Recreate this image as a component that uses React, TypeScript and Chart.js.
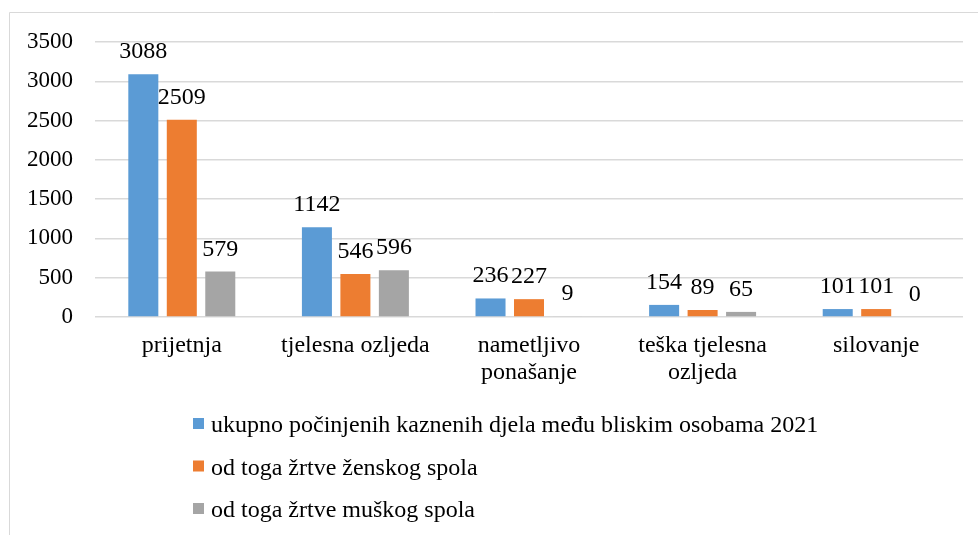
import React, { useEffect, useRef } from "react";
import { Chart, registerables } from "chart.js";

Chart.register(...registerables);

const categories: string[][] = [
  ["prijetnja"],
  ["tjelesna ozljeda"],
  ["nametljivo", "ponašanje"],
  ["teška tjelesna", "ozljeda"],
  ["silovanje"],
];
const seriesNames: string[] = [
  "ukupno počinjenih kaznenih djela među bliskim osobama 2021",
  "od toga žrtve ženskog spola",
  "od toga žrtve muškog spola",
];
const totalValues: number[] = [3088, 1142, 236, 154, 101];
const femaleValues: number[] = [2509, 546, 227, 89, 101];
const maleValues: number[] = [579, 596, 9, 65, 0];
const colors: string[] = ["#5B9BD5", "#ED7D31", "#A5A5A5"];
const yTicks: number[] = [0, 500, 1000, 1500, 2000, 2500, 3000, 3500];

const FONT = '"Liberation Serif", "Times New Roman", serif';

const framePlugin = {
  id: "frame",
  beforeDraw(chart: any) {
    const ctx = chart.ctx;
    ctx.save();
    ctx.fillStyle = "#ffffff";
    ctx.fillRect(0, 0, chart.width, chart.height);
    ctx.strokeStyle = "#d9d9d9";
    ctx.lineWidth = 1;
    ctx.beginPath();
    ctx.moveTo(9.5, chart.height);
    ctx.lineTo(9.5, 12.5);
    ctx.lineTo(chart.width, 12.5);
    ctx.stroke();
    ctx.restore();
  },
};

const labelPlugin = {
  id: "valueLabels",
  afterDatasetsDraw(chart: any) {
    const ctx = chart.ctx;
    ctx.save();
    ctx.font = `24px ${FONT}`;
    ctx.fillStyle = "#000000";
    ctx.textAlign = "center";
    ctx.textBaseline = "alphabetic";
    chart.data.datasets.forEach((ds: any, di: number) => {
      const meta = chart.getDatasetMeta(di);
      meta.data.forEach((el: any, i: number) => {
        ctx.fillText(String(ds.data[i]), el.x, el.y - 16);
      });
    });
    ctx.restore();
  },
};

const legendPlugin = {
  id: "vLegend",
  afterDraw(chart: any) {
    const ctx = chart.ctx;
    ctx.save();
    ctx.font = `24px ${FONT}`;
    ctx.textAlign = "left";
    ctx.textBaseline = "alphabetic";
    chart.data.datasets.forEach((ds: any, i: number) => {
      const top = 418 + i * 42.5;
      ctx.fillStyle = ds.backgroundColor;
      ctx.fillRect(193, top, 11, 11);
      ctx.fillStyle = "#000000";
      ctx.fillText(ds.label, 211, top + 14);
    });
    ctx.restore();
  },
};

export default function App() {
  const ref = useRef<HTMLCanvasElement | null>(null);
  useEffect(() => {
    if (!ref.current) return;
    const values = [totalValues, femaleValues, maleValues];
    const chart = new Chart(ref.current, {
      type: "bar",
      data: {
        labels: categories,
        datasets: seriesNames.map((name, i) => ({
          label: name,
          data: values[i],
          backgroundColor: colors[i],
          borderWidth: 0,
          categoryPercentage: 0.665,
          barPercentage: 0.78,
        })),
      },
      options: {
        animation: false,
        responsive: false,
        devicePixelRatio: 1,
        layout: { padding: { left: 0, right: 15, top: 42, bottom: 0 } },
        plugins: {
          legend: { display: false },
          tooltip: { enabled: false },
        },
        scales: {
          x: {
            grid: { display: false, drawTicks: false },
            border: { display: false },
            ticks: {
              color: "#000000",
              font: { family: FONT, size: 24, lineHeight: 1.1 },
              padding: 16,
              maxRotation: 0,
              autoSkip: false,
            },
            afterFit(scale: any) {
              scale.height = 218;
            },
          },
          y: {
            min: 0,
            max: 3500,
            afterBuildTicks(scale: any) {
              scale.ticks = yTicks.map((v) => ({ value: v }));
            },
            grid: { color: "#d9d9d9", lineWidth: 1.5, drawTicks: false },
            border: { display: false },
            ticks: {
              color: "#000000",
              font: { family: FONT, size: 23 },
              padding: 22,
              callback: (v: any) => String(v),
            },
            afterFit(scale: any) {
              scale.width = 95;
            },
          },
        },
      },
      plugins: [framePlugin, labelPlugin, legendPlugin],
    });
    return () => chart.destroy();
  }, []);
  return (
    <div style={{ position: "absolute", left: 0, top: 0, width: 978, height: 535 }}>
      <canvas ref={ref} width={978} height={535} style={{ width: 978, height: 535, display: "block" }} />
    </div>
  );
}
